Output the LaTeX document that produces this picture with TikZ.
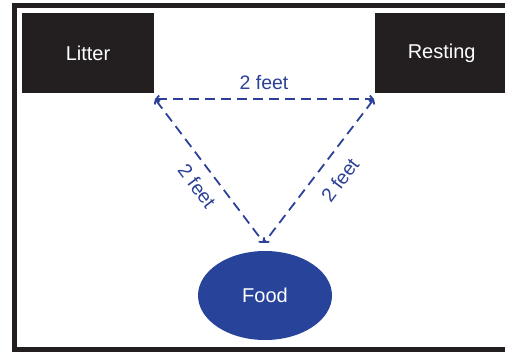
\documentclass[tikz,border=0pt]{standalone}
\usepackage{fontspec}
\setmainfont{Liberation Sans}
\usetikzlibrary{shapes.geometric,arrows.meta}
\definecolor{boxdark}{HTML}{231F20}
\definecolor{foodblue}{HTML}{27439A}
\definecolor{lineblue}{HTML}{2C4197}
\tikzset{
  darkbox/.style={rectangle,fill=boxdark,text=white,minimum height=80pt,inner sep=0pt,font=\fontsize{20}{24}\selectfont},
  foodnode/.style={ellipse,fill=foodblue,text=white,minimum width=134pt,minimum height=89pt,inner sep=0pt,font=\fontsize{20}{24}\selectfont},
  distline/.style={lineblue,line width=1.8pt,dash pattern=on 10pt off 6pt,{Straight Barb[length=3pt,width=7pt]}-{Straight Barb[length=3pt,width=7pt]}},
  distlabel/.style={text=lineblue,inner sep=0pt,font=\fontsize{19.5}{23}\selectfont}
}
\begin{document}
\begin{tikzpicture}[x=1pt,y=-1pt]
\useasboundingbox (0,0) rectangle (505,351);
\begin{scope}
\clip (0,0) rectangle (505,351);
\draw[boxdark,line width=5pt] (14.5,5.5) rectangle (520,349.5);
\end{scope}
\node[darkbox,minimum width=132pt] (litter) at (88,53) {Litter};
\node[darkbox,minimum width=135pt,anchor=west] (resting) at (375,53) {\hspace*{-2pt}Resting};
\node[foodnode] (food) at (265,295.5) {Food};
\coordinate (a) at (155,99);
\coordinate (b) at (374,99);
\coordinate (c) at (264,243);
\draw[distline] (a) -- (b);
\draw[distline] (a) -- (c);
\draw[distline] (b) -- (c);
\node[distlabel] (ltop) at (264,83) {2 feet};
\node[distlabel,rotate=-53] (lleft) at (197,186) {2 feet};
\node[distlabel,rotate=53] (lright) at (340,180) {2 feet};
\end{tikzpicture}
\end{document}
